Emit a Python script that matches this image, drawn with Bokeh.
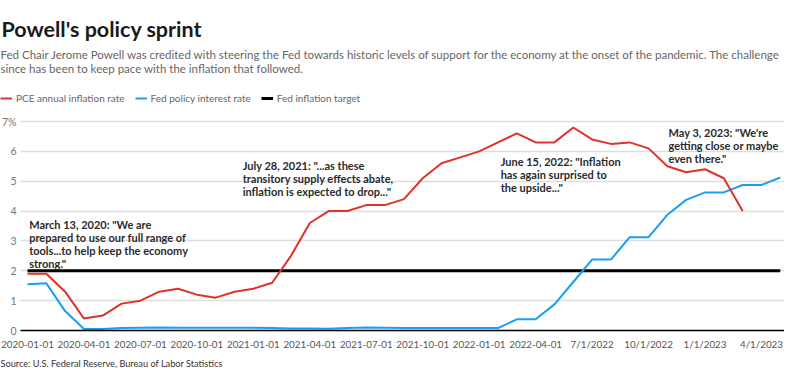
import pandas as pd
from bokeh.plotting import figure
from bokeh.models import Range1d, FixedTicker, Label, Legend, LegendItem, ColumnDataSource, Grid
from bokeh.embed import file_html
from bokeh.resources import INLINE

# ---------------- data ----------------
months = [d.strftime("%Y-%m") for d in pd.date_range("2020-01-01", periods=41, freq="MS")]
pce_inflation = [1.9, 1.9, 1.3, 0.4, 0.5, 0.9, 1.0, 1.3, 1.4, 1.2, 1.1, 1.3,
                 1.4, 1.6, 2.5, 3.6, 4.0, 4.0, 4.2, 4.2, 4.4, 5.1, 5.6, 5.8,
                 6.0, 6.3, 6.6, 6.3, 6.3, 6.8, 6.4, 6.25, 6.3, 6.1, 5.5, 5.3,
                 5.4, 5.1, 4.0]
fed_rate = [1.55, 1.58, 0.65, 0.05, 0.05, 0.08, 0.09, 0.10, 0.09, 0.09, 0.09, 0.09,
            0.09, 0.08, 0.07, 0.07, 0.06, 0.08, 0.10, 0.09, 0.08, 0.08, 0.08, 0.08,
            0.08, 0.08, 0.375, 0.375, 0.875, 1.625, 2.375, 2.375, 3.125, 3.125, 3.875, 4.375,
            4.625, 4.625, 4.875, 4.875, 5.125]
inflation_target = 2.0
tick_labels = ["2020-01-01", "2020-04-01", "2020-07-01", "2020-10-01", "2021-01-01",
               "2021-04-01", "2021-07-01", "2021-10-01", "2022-01-01", "2022-04-01",
               "7/1/2022", "10/1/2022", "1/1/2023", "4/1/2023"]
y_ticks = [0, 1, 2, 3, 4, 5, 6, 7]

x_idx = list(range(len(months)))
tick_pos = [i * 3 for i in range(len(tick_labels))]

# ---------------- layout (frame = whole canvas) ----------------
W, H = 784, 369
PX, X0 = 18.82, 27.0          # px per month, x of first month
Y7, YZ = 121.0, 330.0          # y of 7% line and of zero line
PY = (YZ - Y7) / 7
x_lo, x_hi = -X0 / PX, (W - X0) / PX
y_lo, y_hi = -(H - YZ) / PY, YZ / PY
grid_left = (20 - X0) / PX

FONT = "Lato"

p = figure(width=W, height=H, output_backend="svg", toolbar_location=None,
           x_range=Range1d(x_lo, x_hi), y_range=Range1d(y_lo, y_hi),
           min_border=0, title_location=None)
p.outline_line_color = None
p.xgrid.visible = False
p.ygrid.grid_line_color = "#dddddd"
p.ygrid.grid_line_width = 1.5
if "cross_bounds" in Grid.properties():
    p.ygrid.cross_bounds = (grid_left, x_hi)

p.yaxis.fixed_location = grid_left
p.yaxis.bounds = (0, 7)
p.yaxis.ticker = FixedTicker(ticks=y_ticks)
p.yaxis.major_label_overrides = {7: "7%"}
p.yaxis.axis_line_color = None
p.yaxis.major_tick_line_color = None
p.yaxis.minor_tick_line_color = None
p.yaxis.major_tick_out = 0
p.yaxis.major_tick_in = 0
p.yaxis.major_label_text_color = "#777777"
p.yaxis.major_label_text_font = FONT
p.yaxis.major_label_text_font_size = "10.5px"
p.yaxis.major_label_standoff = 4

p.xaxis.fixed_location = 0
p.xaxis.bounds = (grid_left, x_hi)
p.xaxis.ticker = FixedTicker(ticks=tick_pos)
p.xaxis.major_label_overrides = {tp: lbl for tp, lbl in zip(tick_pos, tick_labels)}
p.xaxis.axis_line_color = "#000000"
p.xaxis.axis_line_width = 1.5
p.xaxis.major_tick_line_color = None
p.xaxis.minor_tick_line_color = None
p.xaxis.major_tick_out = 0
p.xaxis.major_tick_in = 0
p.xaxis.major_label_text_color = "#555555"
p.xaxis.major_label_text_font = FONT
p.xaxis.major_label_text_font_size = "9.8px"
p.xaxis.major_label_standoff = 7

src_pce = ColumnDataSource(dict(x=x_idx[:len(pce_inflation)], y=pce_inflation))
src_fed = ColumnDataSource(dict(x=x_idx[:len(fed_rate)], y=fed_rate))
r_target = p.line([x_idx[0], x_idx[len(fed_rate) - 1]], [inflation_target, inflation_target],
                  line_color="#000000", line_width=3)
r_fed = p.line("x", "y", source=src_fed, line_color="#1a9ff0", line_width=2)
r_pce = p.line("x", "y", source=src_pce, line_color="#e0322b", line_width=2)

legend = Legend(items=[LegendItem(label="PCE annual inflation rate", renderers=[r_pce]),
                       LegendItem(label="Fed policy interest rate", renderers=[r_fed]),
                       LegendItem(label="Fed inflation target", renderers=[r_target])],
                orientation="horizontal", location=(0, H - 104), padding=0, margin=0,
                spacing=10, glyph_width=12, glyph_height=12, label_standoff=4,
                label_text_font=FONT, label_text_font_size="10px",
                label_text_color="#666666", border_line_color=None,
                background_fill_alpha=0)
p.add_layout(legend, "center")


def lab(text, x, ybase, size, color, bold=False):
    """x, ybase: canvas position (from top-left) of text start / baseline."""
    p.add_layout(Label(x=x, y=H - ybase, x_units="screen", y_units="screen",
                       text=text, text_font=FONT, text_font_size=size,
                       text_color=color, text_baseline="alphabetic", text_align="left",
                       text_font_style="bold" if bold else "normal"))


lab("Powell's policy sprint", 1, 28.3, "21.5px", "#1a1a1a", True)
lab("Fed Chair Jerome Powell was credited with steering the Fed towards historic levels of support "
    "for the economy at the onset of the pandemic. The challenge", 0, 54, "11.5px", "#666666")
lab("since has been to keep pace with the inflation that followed.", 0, 68.3, "11.5px", "#666666")


def mx(X):
    return X0 + (X - 27.3) * PX / 19.04


def my(Y):
    return Y7 + (Y - 122.0) * PY / 30.43


ann = [
    (mx(29), my(226.7), ['March 13, 2020: "We are', 'prepared to use our full range of',
                         'tools...to help keep the economy', 'strong."']),
    (mx(245), my(166.7), ['July 28, 2021: "...as these', 'transitory supply effects abate,',
                          'inflation is expected to drop..."']),
    (mx(506), my(162.7), ['June 15, 2022: "Inflation', 'has again surprised to', 'the upside..."']),
    (668, my(133.3), ['May 3, 2023: "We\'re', 'getting close or maybe', 'even there."']),
]
for x, yb, lines in ann:
    for k, line in enumerate(lines):
        lab(line, x, yb + k * 13.1, "11px", "#2b2b2b", True)

lab("Source: U.S. Federal Reserve, Bureau of Labor Statistics", 0, 363, "9.2px", "#333333")

open("out.html", "w").write(file_html(p, INLINE))
